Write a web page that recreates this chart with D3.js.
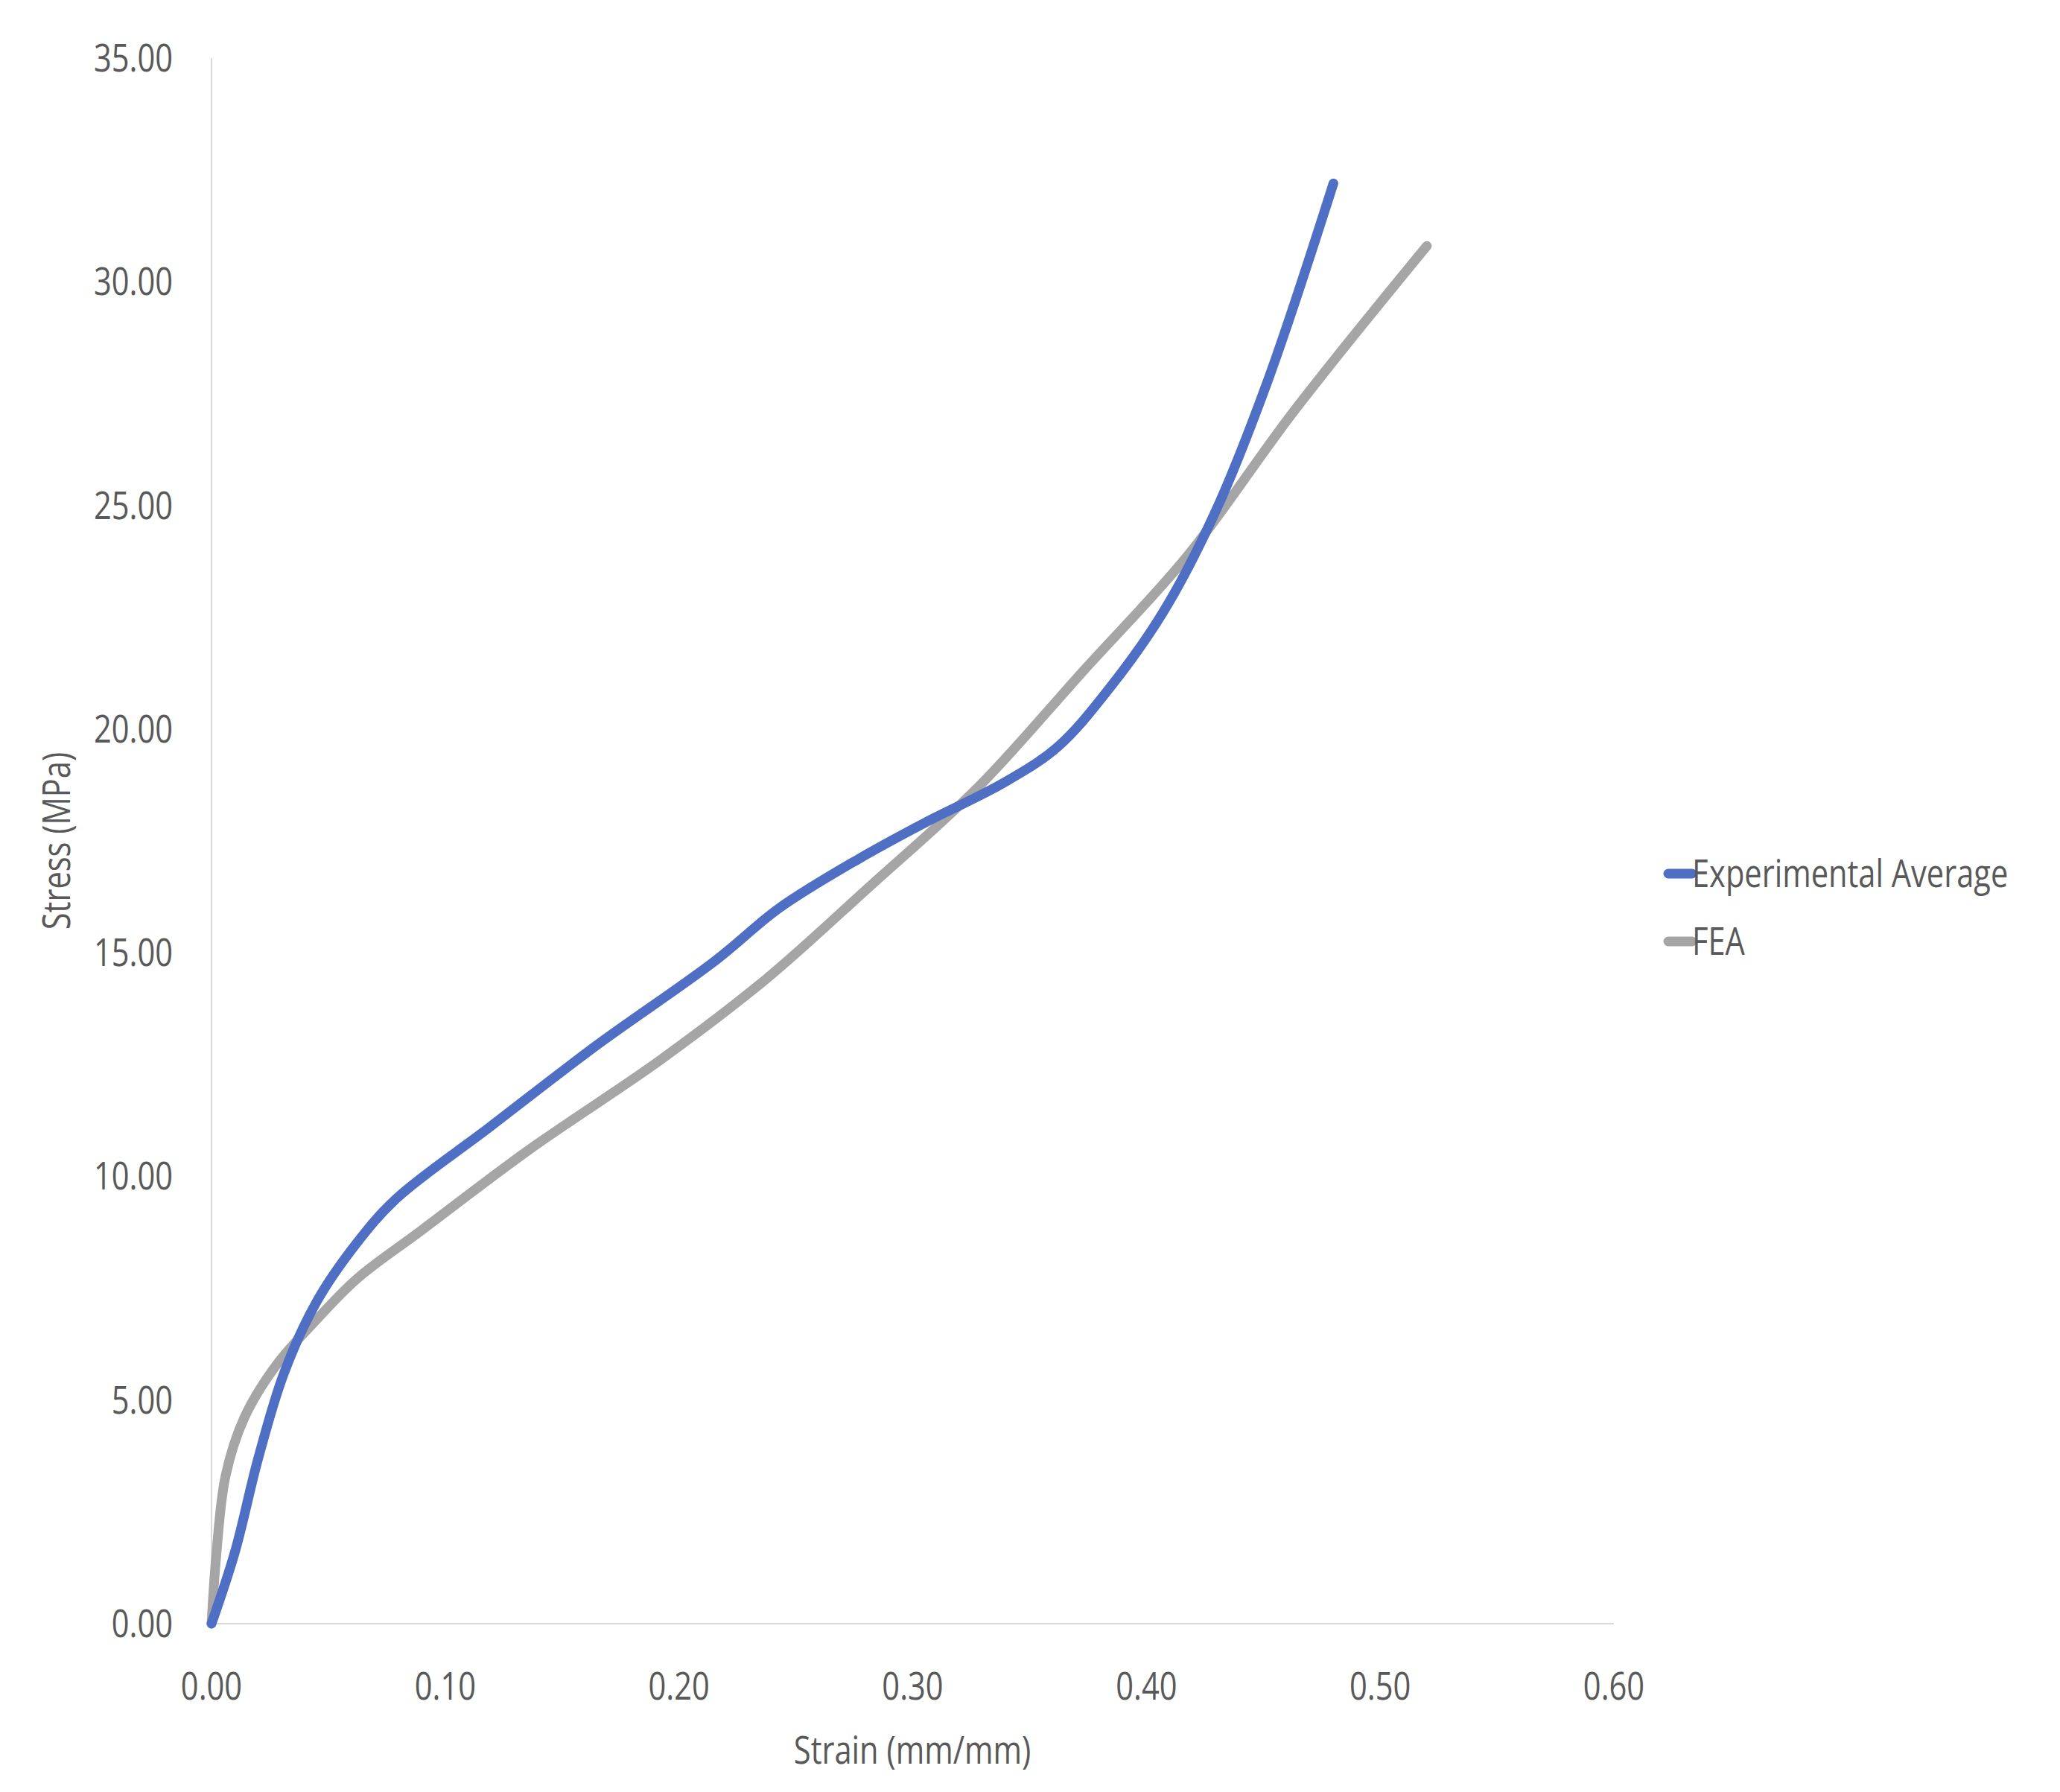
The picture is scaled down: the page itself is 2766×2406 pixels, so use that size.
<!DOCTYPE html><html><head><meta charset="utf-8">
<script src="https://cdn.jsdelivr.net/npm/d3@7"></script>
<style>body{margin:0;background:#fff}text{font-family:"Open Sans",sans-serif;fill:#595959}</style>
</head><body><svg id="c" width="2766" height="2406"></svg><script>
const expX=[0,0.01,0.02,0.031,0.045,0.062,0.079,0.119,0.164,0.215,0.243,0.277,0.305,0.339,0.362,0.384,0.407,0.429,0.452,0.480];
const expY=[0,1.6,3.7,5.6,7.2,8.5,9.5,11.1,12.9,14.8,16.0,17.1,17.9,18.8,19.6,20.9,22.6,24.8,27.8,32.2];
const feaX=[0,0.002,0.006,0.014,0.028,0.045,0.062,0.090,0.136,0.192,0.237,0.282,0.328,0.373,0.418,0.463,0.520];
const feaY=[0,1.5,3.3,4.6,5.8,6.8,7.7,8.8,10.6,12.6,14.4,16.5,18.7,21.3,23.9,27.1,30.8];
const xTicks=[0,0.1,0.2,0.3,0.4,0.5,0.6];
const yTicks=[0,5,10,15,20,25,30,35];
const names=["Experimental Average","FEA"];
const colors=["#4F6FC4","#A5A5A5"];
const svg=d3.select("#c");
const x=d3.scaleLinear().domain([0,0.6]).range([284,2167]);
const y=d3.scaleLinear().domain([0,35]).range([2180,78]);
svg.append("line").attr("x1",284).attr("x2",2167).attr("y1",2180).attr("y2",2180).attr("stroke","#d9d9d9").attr("stroke-width",2);
svg.append("line").attr("x1",284).attr("x2",284).attr("y1",2180).attr("y2",78).attr("stroke","#d9d9d9").attr("stroke-width",2);
const fs=52;
function txt(px,py,s,anchor,rot){
 return svg.append("text").attr("transform",`translate(${px},${py}) rotate(${rot||0}) scale(0.8,1)`).attr("text-anchor",anchor).attr("font-size",fs).text(s);
}
yTicks.forEach(t=>txt(232,y(t)+18,t.toFixed(2),"end"));
xTicks.forEach(t=>txt(x(t),2282,t.toFixed(2),"middle"));
txt(1225,2368,"Strain (mm/mm)","middle");
txt(94,1129,"Stress (MPa)","middle",-90);
const line=d3.line().x(d=>x(d[0])).y(d=>y(d[1])).curve(d3.curveCatmullRom.alpha(0.5));
[[feaX,feaY,1],[expX,expY,0]].forEach(s=>{
 svg.append("path").attr("d",line(s[0].map((v,j)=>[v,s[1][j]]))).attr("fill","none").attr("stroke",colors[s[2]]).attr("stroke-width",13).attr("stroke-linecap","round");
});
names.forEach((n,i)=>{
 const ly=1173+i*91;
 svg.append("line").attr("x1",2240).attr("x2",2272).attr("y1",ly).attr("y2",ly).attr("stroke",colors[i]).attr("stroke-width",13).attr("stroke-linecap","round");
 txt(2272,ly+18,n,"start");
});
</script></body></html>
